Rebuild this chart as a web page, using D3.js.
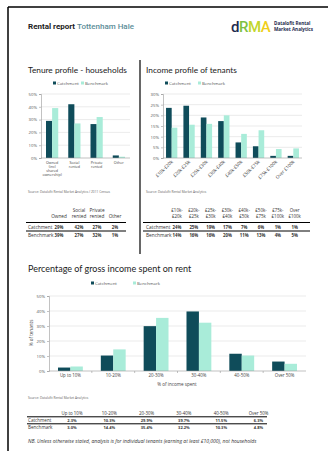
<!DOCTYPE html>
<html><head><meta charset="utf-8">
<script src="https://cdn.jsdelivr.net/npm/d3@7"></script>
<style>body{margin:0;background:#fff}svg{display:block}</style>
</head><body>
<script>
// ---------- DATA ----------
const seriesNames = ["Catchment", "Benchmark"];
const tenureCats = ["Owned (incl shared ownership)", "Social rented", "Private rented", "Other"];
const tenureCatchment = [29, 42, 26.5, 2];
const tenureBenchmark = [39, 27, 32, 1];
const tenureTicks = [0, 10, 20, 30, 40, 50];

const incomeCats = ["£10k-£20k", "£20k-£25k", "£25k-£30k", "£30k-£40k", "£40k-£50k", "£50k-£75k", "£75k-£100k", "Over £100k"];
const incomeCatchment = [23.5, 24.5, 19, 17.3, 7.3, 5.5, 1, 1];
const incomeBenchmark = [14.2, 15.6, 16, 20, 11.3, 13, 4.2, 4.5];
const incomeTicks = [0, 5, 10, 15, 20, 25, 30];

const rentCats = ["Up to 10%", "10-20%", "20-30%", "30-40%", "40-50%", "Over 50%"];
const rentCatchment = [2.3, 10.3, 29.9, 39.7, 11.5, 6.3];
const rentBenchmark = [3.0, 14.4, 35.4, 32.2, 10.3, 4.8];
const rentTicks = [0, 10, 20, 30, 40, 50];

// ---------- STYLE ----------
const C1 = "#0f4c5a", C2 = "#a9ecd9";
const FONT = "'Open Sans', 'Liberation Sans', sans-serif";
const TFONT = "Lato, 'Open Sans', sans-serif";

const svg = d3.select("body").append("svg").attr("width", 328).attr("height", 451)
  .style("font-family", FONT);

// page frame
svg.append("line").attr("x1", 8).attr("x2", 328).attr("y1", 7).attr("y2", 7).attr("stroke", "#000").attr("stroke-width", 1.5);
svg.append("line").attr("x1", 8).attr("x2", 8).attr("y1", 7).attr("y2", 451).attr("stroke", "#000").attr("stroke-width", 1.5);
svg.append("line").attr("x1", 140).attr("x2", 140).attr("y1", 60).attr("y2", 254).attr("stroke", "#000").attr("stroke-width", 1.2);

// header
const h = svg.append("text").attr("x", 28).attr("y", 29).attr("font-size", 8).attr("font-family", "Roboto, sans-serif");
h.append("tspan").attr("font-weight", 700).attr("fill", "#222").text("Rental report ");
h.append("tspan").attr("fill", "#5b8d98").attr("font-weight", 500).text("Tottenham Hale");

// logo
const lg = svg.append("text").attr("x", 231).attr("y", 32).attr("font-size", 15).attr("font-family", "Roboto, sans-serif").attr("font-weight", 500).attr("letter-spacing", -0.5);
[["d", "#1c2a4e"], ["R", "#7dc142"], ["M", "#c2d62c"], ["A", "#f0cf1a"]].forEach(([t, c]) => lg.append("tspan").attr("fill", c).text(t));
svg.append("text").attr("x", 274).attr("y", 25).attr("font-size", 4.6).attr("font-weight", 700).attr("fill", "#1c2a4e").text("Datalofit Rental");
svg.append("text").attr("x", 274).attr("y", 30.5).attr("font-size", 4.6).attr("font-weight", 700).attr("fill", "#1c2a4e").text("Market Analytics");

function chart(o) {
  const g = svg.append("g");
  const x = d3.scaleBand().domain(o.cats).range([o.x0, o.x1]).paddingInner(o.pad).paddingOuter(o.pad / 2);
  const xs = d3.scaleBand().domain(seriesNames).range([0, x.bandwidth()]);
  const y = d3.scaleLinear().domain([0, d3.max(o.ticks)]).range([o.yb, o.yt]);
  g.append("text").attr("x", o.tx).attr("y", o.ty).attr("font-size", o.tfs).attr("font-family", TFONT).attr("fill", "#222").text(o.title);
  seriesNames.forEach((s, i) => {
    g.append("rect").attr("x", o.lx[i]).attr("y", o.ly - 3).attr("width", 3).attr("height", 3).attr("fill", i ? C2 : C1);
    g.append("text").attr("x", o.lx[i] + 4).attr("y", o.ly).attr("font-size", 4.3).attr("fill", "#555").text(s);
  });
  g.selectAll(".grid").data(o.ticks.slice(1)).join("line")
    .attr("x1", o.x0).attr("x2", o.x1).attr("y1", d => y(d)).attr("y2", d => y(d))
    .attr("stroke", "#dedede").attr("stroke-width", 0.6);
  const ya = g.append("g").attr("transform", `translate(${o.x0},0)`)
    .call(d3.axisLeft(y).tickValues(o.ticks).tickFormat(d => d + "%").tickSize(2).tickPadding(2));
  ya.select(".domain").attr("stroke", "#999").attr("stroke-width", 0.6);
  ya.selectAll(".tick line").attr("stroke", "#999").attr("stroke-width", 0.6);
  ya.selectAll("text").attr("font-size", 4.3).attr("fill", "#555").attr("font-family", FONT);
  const data = o.cats.map((c, i) => ({ c, v: [o.a[i], o.b[i]] }));
  const grp = g.selectAll(".grp").data(data).join("g").attr("transform", d => `translate(${x(d.c)},0)`);
  grp.selectAll("rect").data(d => d.v.map((v, i) => ({ s: seriesNames[i], v }))).join("rect")
    .attr("x", d => xs(d.s)).attr("width", xs.bandwidth())
    .attr("y", d => y(d.v)).attr("height", d => y(0) - y(d.v))
    .attr("fill", d => d.s === "Catchment" ? C1 : C2);
  g.append("line").attr("x1", o.x0).attr("x2", o.x1).attr("y1", y(0)).attr("y2", y(0)).attr("stroke", "#999").attr("stroke-width", 0.6);
  if (o.boundTicks) {
    const step = x.step();
    o.cats.forEach((c, i) => {
      const bx = o.x0 + step * (i + 1);
      if (i < o.cats.length - 1) g.append("line").attr("x1", bx).attr("x2", bx).attr("y1", y(0)).attr("y2", y(0) + 2).attr("stroke", "#999").attr("stroke-width", 0.6);
    });
  }
  return { x, y, g };
}

// ---------- Tenure ----------
const t = chart({ cats: tenureCats, a: tenureCatchment, b: tenureBenchmark, ticks: tenureTicks,
  x0: 41, x1: 130, yt: 94, yb: 158, pad: 0.45, title: "Tenure profile - households", tx: 28, ty: 73, tfs: 8.3,
  lx: [53, 81], ly: 84.5 });
const tenureLabelLines = [["Owned", "(incl", "shared", "ownership)"], ["Social", "rented"], ["Private", "rented"], ["Other"]];
tenureCats.forEach((c, i) => {
  const cx = t.x(c) + t.x.bandwidth() / 2;
  tenureLabelLines[i].forEach((l, j) => {
    svg.append("text").attr("x", cx).attr("y", 164 + j * 4).attr("text-anchor", "middle").attr("font-size", 3.7).attr("fill", "#444").text(l);
  });
});
svg.append("text").attr("x", 28).attr("y", 192.5).attr("font-size", 3.2).attr("fill", "#666").text("Source: Datalofit Rental Market Analytics / 2011 Census");

// tenure table
const tcol = [59, 79, 97, 115];
const tHead = [["", "Owned"], ["Social", "rented"], ["Private", "rented"], ["", "Other"]];
tHead.forEach((hh, i) => hh.forEach((l, j) => svg.append("text").attr("x", tcol[i]).attr("y", 212 + j * 5.6).attr("text-anchor", "middle").attr("font-size", 4.7).attr("fill", "#333").text(l)));
[[tenureCatchment, "Catchment", 228.5], [tenureBenchmark, "Benchmark", 236.5]].forEach(([arr, name, yy]) => {
  svg.append("text").attr("x", 28).attr("y", yy).attr("font-size", 4.8).attr("fill", "#333").text(name);
  arr.forEach((v, i) => svg.append("text").attr("x", tcol[i]).attr("y", yy).attr("text-anchor", "middle").attr("font-size", 4.3).attr("font-weight", 700).attr("fill", "#333").text(Math.round(v) + "%"));
});
svg.append("line").attr("x1", 26).attr("x2", 126).attr("y1", 222.5).attr("y2", 222.5).attr("stroke", "#000").attr("stroke-width", 1);
svg.append("line").attr("x1", 26).attr("x2", 126).attr("y1", 231).attr("y2", 231).attr("stroke", "#000").attr("stroke-width", 1);

// ---------- Income ----------
const inc = chart({ cats: incomeCats, a: incomeCatchment, b: incomeBenchmark, ticks: incomeTicks,
  x0: 163, x1: 302, yt: 94, yb: 158, pad: 0.35, title: "Income profile of tenants", tx: 146, ty: 73, tfs: 8.3,
  lx: [165, 198], ly: 84.5 });
incomeCats.forEach(c => {
  const cx = inc.x(c) + inc.x.bandwidth() / 2 + 1.5;
  svg.append("text").attr("transform", `translate(${cx},162) rotate(-45)`).attr("text-anchor", "end").attr("font-size", 4.6).attr("fill", "#444").text(c);
});
svg.append("text").attr("x", 146).attr("y", 192.5).attr("font-size", 3.2).attr("fill", "#666").text("Source: Datalofit Rental Market Analytics");
const icol = incomeCats.map((c, i) => 177 + i * 16.8);
const iHead = [["£10k-", "£20k"], ["£20k-", "£25k"], ["£25k-", "£30k"], ["£30k-", "£40k"], ["£40k-", "£50k"], ["£50k-", "£75k"], ["£75k-", "£100k"], ["Over", "£100k"]];
iHead.forEach((hh, i) => hh.forEach((l, j) => svg.append("text").attr("x", icol[i]).attr("y", 212 + j * 5.6).attr("text-anchor", "middle").attr("font-size", 4.4).attr("fill", "#333").text(l)));
[[incomeCatchment, "Catchment", 228.5], [incomeBenchmark, "Benchmark", 236.5]].forEach(([arr, name, yy]) => {
  svg.append("text").attr("x", 146).attr("y", yy).attr("font-size", 4.8).attr("fill", "#333").text(name);
  arr.forEach((v, i) => svg.append("text").attr("x", icol[i]).attr("y", yy).attr("text-anchor", "middle").attr("font-size", 4.3).attr("font-weight", 700).attr("fill", "#333").text(Math.round(v) + "%"));
});
svg.append("line").attr("x1", 143).attr("x2", 310).attr("y1", 222.5).attr("y2", 222.5).attr("stroke", "#000").attr("stroke-width", 1);
svg.append("line").attr("x1", 143).attr("x2", 310).attr("y1", 231).attr("y2", 231).attr("stroke", "#000").attr("stroke-width", 1);

// ---------- Rent ----------
const r = chart({ cats: rentCats, a: rentCatchment, b: rentBenchmark, ticks: rentTicks,
  x0: 49, x1: 306, yt: 296, yb: 371, pad: 0.42, title: "Percentage of gross income spent on rent", tx: 28, ty: 272, tfs: 9,
  lx: [91, 133], ly: 284.5, boundTicks: true });
rentCats.forEach(c => {
  svg.append("text").attr("x", r.x(c) + r.x.bandwidth() / 2).attr("y", 377).attr("text-anchor", "middle").attr("font-size", 4.4).attr("fill", "#444").text(c);
});
svg.append("text").attr("x", 177).attr("y", 386).attr("text-anchor", "middle").attr("font-size", 4.6).attr("fill", "#444").text("% of income spent");
svg.append("text").attr("transform", "translate(33,333) rotate(-90)").attr("text-anchor", "middle").attr("font-size", 4.6).attr("fill", "#444").text("% of tenants");
svg.append("text").attr("x", 28).attr("y", 399).attr("font-size", 3.2).attr("fill", "#666").text("Source: Datalofit Rental Market Analytics");
const rcol = rentCats.map((c, i) => 72 + i * 37.3);
rentCats.forEach((c, i) => svg.append("text").attr("x", rcol[i]).attr("y", 414.5).attr("text-anchor", "middle").attr("font-size", 4.4).attr("fill", "#333").text(c));
[[rentCatchment, "Catchment", 421.5], [rentBenchmark, "Benchmark", 428.5]].forEach(([arr, name, yy]) => {
  svg.append("text").attr("x", 28).attr("y", yy).attr("font-size", 4.6).attr("fill", "#333").text(name);
  arr.forEach((v, i) => svg.append("text").attr("x", rcol[i]).attr("y", yy).attr("text-anchor", "middle").attr("font-size", 4).attr("font-weight", 700).attr("fill", "#333").text(v.toFixed(1) + "%"));
});
svg.append("line").attr("x1", 27).attr("x2", 267).attr("y1", 416.8).attr("y2", 416.8).attr("stroke", "#000").attr("stroke-width", 1);
svg.append("line").attr("x1", 27).attr("x2", 267).attr("y1", 423.8).attr("y2", 423.8).attr("stroke", "#000").attr("stroke-width", 1);
svg.append("text").attr("x", 28).attr("y", 443).attr("font-size", 5).attr("font-style", "italic").attr("fill", "#333")
  .text("NB. Unless otherwise stated, analysis is for individual tenants (earning at least £10,000), not households");
</script>
</body></html>
